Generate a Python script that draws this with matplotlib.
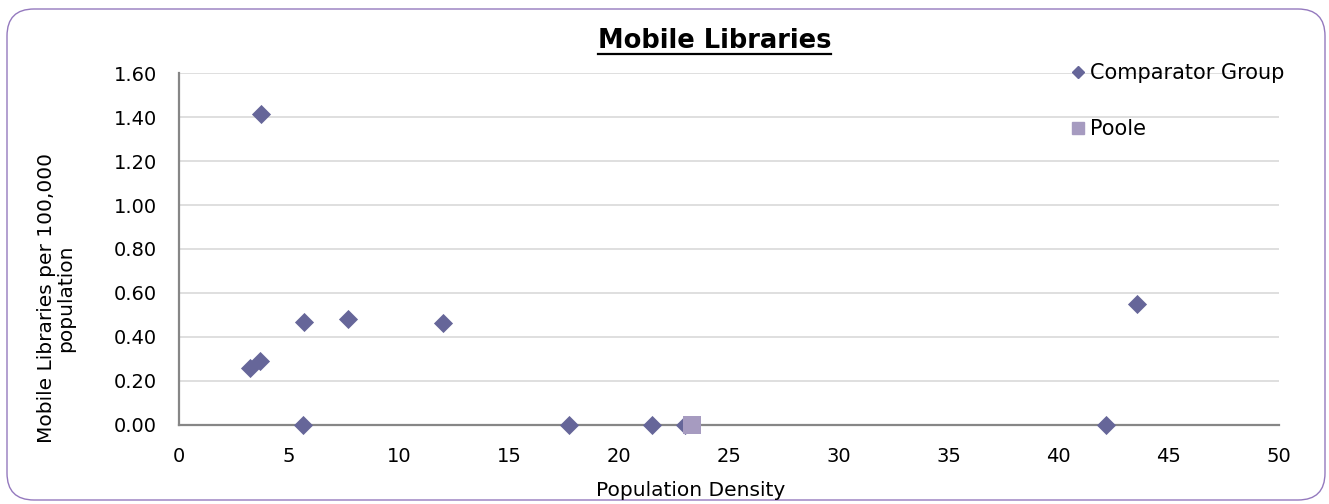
import matplotlib.pyplot as plt
from matplotlib.patches import FancyBboxPatch
from matplotlib.lines import Line2D

# dados
comp_density = [3.72, 3.23, 3.68, 5.66, 7.66, 11.98, 5.61, 17.71, 21.5, 22.98, 42.16, 43.55]
comp_mobile = [1.416, 0.258, 0.292, 0.466, 0.479, 0.463, 0.0, 0.0, 0.0, 0.0, 0.0, 0.548]
poole_density = [23.3]
poole_mobile = [0.0]

comp_color = '#666699'
poole_color = '#A69BC0'
plt.rcParams['font.family'] = ['DejaVu Sans']

W, H = 1329, 504
fig = plt.figure(figsize=(W / 100, H / 100), dpi=100)
ax = fig.add_axes([179.3 / W, 79.3 / H, (1278.7 - 179.3) / W, (424.7 - 73.3) / H])

# moldura arredondada
border = FancyBboxPatch((0.07, 0.04), 13.18, 4.91, boxstyle='round,pad=0,rounding_size=0.27',
                        transform=fig.dpi_scale_trans, facecolor='none', edgecolor='#9479BE',
                        linewidth=1.0, zorder=-10)
fig.patches.append(border)

ax.scatter(comp_density, comp_mobile, marker='D', s=95, color=comp_color, clip_on=False, zorder=3,
           linewidths=0)
ax.scatter(poole_density, poole_mobile, marker='s', s=185, color=poole_color, clip_on=False, zorder=4,
           linewidths=0)

ax.set_xlim(0, 50)
ax.set_ylim(0, 1.6)
ax.set_xticks(range(0, 51, 5))
ax.set_yticks([i * 0.2 for i in range(9)])
ax.set_yticklabels([f'{i * 0.2:.2f}' for i in range(9)])
ax.tick_params(length=0, labelsize=14, pad=16)
ax.grid(axis='y', color='#D9D9D9', linewidth=1.2)
ax.set_axisbelow(True)
for s in ['top', 'right']:
    ax.spines[s].set_visible(False)
for s in ['left', 'bottom']:
    ax.spines[s].set_color('#868686')
    ax.spines[s].set_linewidth(1.6)
    ax.spines[s].set_zorder(2)

# rótulos dos eixos (posição como no original)
fig.text(691 / W, 1 - 490 / H, 'Population Density', ha='center', va='center', fontsize=14.5)
fig.text(56 / W, 1 - 298 / H, 'Mobile Libraries per 100,000\npopulation', ha='center', va='center',
         rotation=90, multialignment='center', fontsize=14.5, linespacing=1.05)

title = fig.text(714.5 / W, 1 - 48 / H, 'Mobile Libraries', ha='center', va='baseline', fontsize=18.5,
                 fontweight='bold')
fig.canvas.draw()
bb = title.get_window_extent(fig.canvas.get_renderer())
yline = 1 - 54.3 / H
fig.add_artist(Line2D([bb.x0 / W, bb.x1 / W], [yline, yline], color='black', linewidth=1.6))

handles = [Line2D([], [], marker='D', linestyle='none', color=comp_color, markersize=6),
           Line2D([], [], marker='s', linestyle='none', color=poole_color, markersize=8)]
fig.legend(handles, ['Comparator Group', 'Poole'], loc='upper left',
           bbox_to_anchor=(0.8066, 0.875), frameon=False, fontsize=15, borderpad=0,
           handlelength=0.55, handletextpad=0.3, labelspacing=1.75, borderaxespad=0)

plt.savefig('out.png', dpi=100)
